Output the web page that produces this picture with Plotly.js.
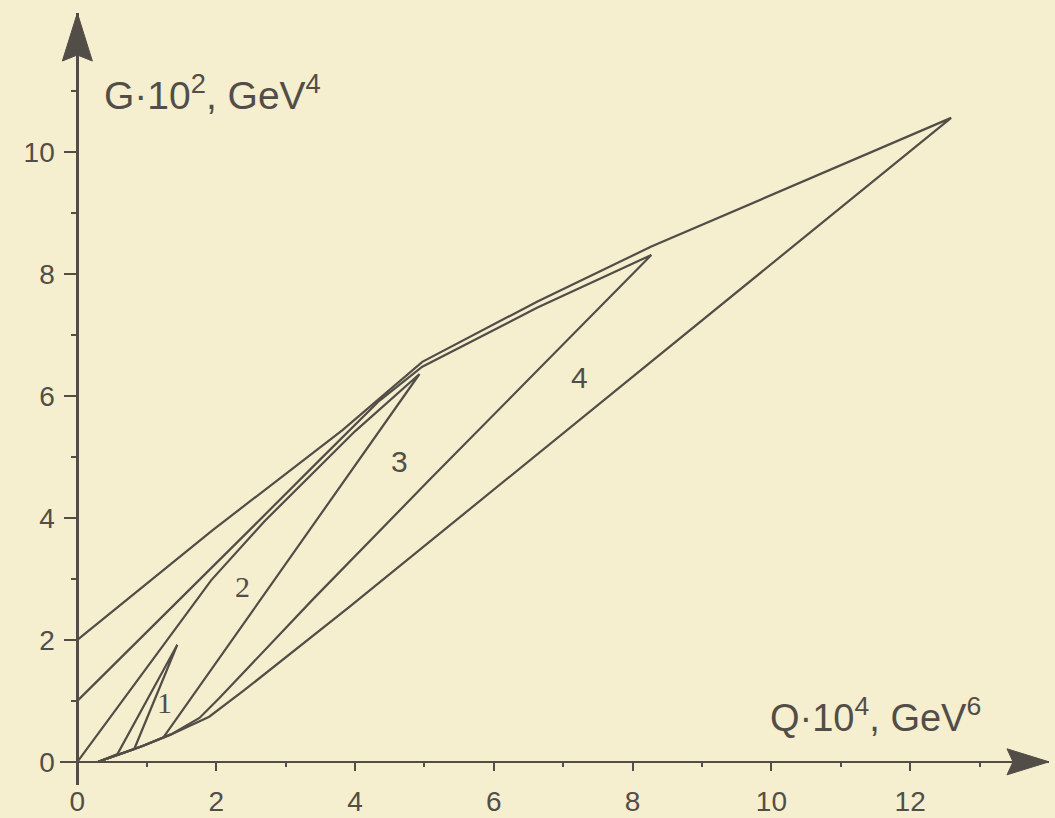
<!DOCTYPE html>
<html><head><meta charset="utf-8">
<script src="https://cdn.plot.ly/plotly-3.0.1.min.js"></script>
<style>html,body{margin:0;padding:0;background:#f5eecf}</style>
</head><body>
<div id="chart" style="width:1055px;height:818px"></div>
<script>
// tick values
const xTicks = [0, 2, 4, 6, 8, 10, 12];
const yTicks = [0, 2, 4, 6, 8, 10];
const xMinor = [1, 3, 5, 7, 9, 11, 13];
const yMinor = [1, 3, 5, 7, 9, 11];

// curves (Q·10^4, G·10^2)
const curve1Q = [0.30, 0.58, 1.44, 0.82, 0.60, 0.30];
const curve1G = [0.00, 0.13, 1.92, 0.21, 0.12, 0.00];
const curve2Q = [0.00, 1.93, 2.70, 4.00, 4.93, 1.24, 0.94, 0.60, 0.30];
const curve2G = [0.00, 2.98, 3.95, 5.42, 6.36, 0.40, 0.26, 0.12, 0.00];
const curve3Q = [0.00, 1.76, 2.48, 3.50, 4.35, 4.97, 6.63, 8.27, 5.07, 3.39, 2.05, 1.76, 1.35, 0.94, 0.60, 0.30];
const curve3G = [1.00, 2.98, 3.80, 4.96, 5.92, 6.48, 7.45, 8.31, 4.62, 2.66, 1.05, 0.72, 0.45, 0.26, 0.12, 0.00];
const curve4Q = [0.00, 1.95, 3.82, 4.97, 6.63, 8.27, 12.59, 3.92, 2.40, 1.90, 1.35, 0.94, 0.60, 0.30];
const curve4G = [2.00, 3.80, 5.44, 6.56, 7.55, 8.45, 10.56, 2.54, 1.17, 0.74, 0.45, 0.26, 0.12, 0.00];

const curveLabels = ['1', '2', '3', '4'];
const labelQ = [1.25, 2.38, 4.64, 7.23];
const labelG = [0.98, 2.87, 4.92, 6.31];

const xRange = [-0.25, 14.0];
const yRange = [-0.38, 12.28];

const ink = '#524e47';
const lineStyle = {color: ink, width: 2.2};
const curves = [[curve1Q, curve1G], [curve2Q, curve2G], [curve3Q, curve3G], [curve4Q, curve4G]];
const traces = curves.map((c, i) => ({
  type: 'scatter', mode: 'lines', x: c[0], y: c[1],
  line: lineStyle, name: curveLabels[i], hoverinfo: 'skip', cliponaxis: false
}));

const labelFonts = ['Liberation Serif', 'Liberation Serif', 'Liberation Sans', 'Liberation Sans'];
const annotations = curveLabels.map((t, i) => ({
  x: labelQ[i], y: labelG[i], xref: 'x', yref: 'y', text: t, showarrow: false,
  font: {family: labelFonts[i], size: 30, color: ink}
}));
annotations.push({
  x: 0.36, y: 10.98, xref: 'x', yref: 'y', xanchor: 'left', yanchor: 'middle',
  text: 'G·10<sup>2</sup>, GeV<sup>4</sup>', showarrow: false,
  font: {family: 'Liberation Sans', size: 39, color: ink}
});
annotations.push({
  x: 9.95, y: 0.76, xref: 'x', yref: 'y', xanchor: 'left', yanchor: 'middle',
  text: 'Q·10<sup>4</sup>, GeV<sup>6</sup>', showarrow: false,
  font: {family: 'Liberation Sans', size: 38, color: ink}
});

const tickFont = {family: 'Liberation Sans', size: 28, color: ink};
const layout = {
  width: 1055, height: 818,
  margin: {l: 60, r: 6, t: 13, b: 33},
  paper_bgcolor: '#f5eecf', plot_bgcolor: '#f5eecf',
  showlegend: false,
  xaxis: {
    range: xRange, anchor: 'free',
    position: (0 - yRange[0]) / (yRange[1] - yRange[0]),
    showgrid: false, zeroline: false, showline: true, linecolor: ink, linewidth: 2.2,
    tickmode: 'array', tickvals: xTicks, ticks: 'outside', ticklen: 8, tickwidth: 2, tickcolor: ink,
    tickfont: tickFont, ticklabelstandoff: 6,
    minor: {tickmode: 'array', tickvals: xMinor, ticks: 'outside', ticklen: 4, tickwidth: 2, tickcolor: ink, showgrid: false}
  },
  yaxis: {
    range: yRange, anchor: 'free',
    position: (0 - xRange[0]) / (xRange[1] - xRange[0]),
    showgrid: false, zeroline: false, showline: true, linecolor: ink, linewidth: 2.2,
    tickmode: 'array', tickvals: yTicks, ticks: 'outside', ticklen: 12, tickwidth: 2, tickcolor: ink,
    tickfont: tickFont, ticklabelstandoff: 4,
    minor: {tickmode: 'array', tickvals: yMinor, ticks: 'outside', ticklen: 5, tickwidth: 2, tickcolor: ink, showgrid: false}
  },
  shapes: [
    {type: 'path', xref: 'x', yref: 'y', xsizemode: 'pixel', ysizemode: 'pixel',
     xanchor: xRange[1], yanchor: 0, path: 'M0,0 L-42,13 L-36,0 L-42,-13 Z',
     fillcolor: ink, line: {color: ink, width: 1}},
    {type: 'path', xref: 'x', yref: 'y', xsizemode: 'pixel', ysizemode: 'pixel',
     xanchor: 0, yanchor: yRange[1], path: 'M0,0 L-15,-48 L0,-42 L15,-48 Z',
     fillcolor: ink, line: {color: ink, width: 1}}
  ],
  annotations: annotations
};
Plotly.newPlot('chart', traces, layout, {displayModeBar: false, staticPlot: true});
</script>
</body></html>
